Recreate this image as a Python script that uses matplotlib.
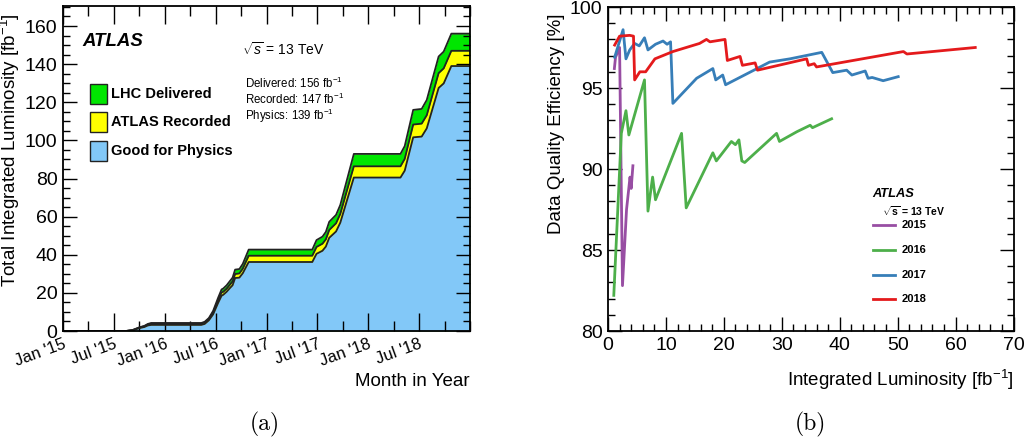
import numpy as np
import matplotlib.pyplot as plt
from matplotlib.lines import Line2D
from matplotlib.patches import Rectangle
from matplotlib.ticker import MultipleLocator

plt.rcParams['font.family'] = ['Liberation Sans', 'DejaVu Sans']
plt.rcParams['mathtext.fontset'] = 'custom'
plt.rcParams['mathtext.rm'] = 'Liberation Sans'
plt.rcParams['mathtext.it'] = 'Liberation Sans:italic'
plt.rcParams['mathtext.bf'] = 'Liberation Sans:bold'

# (a) cumulative luminosity, x = months since Jan 2015
months = [0, 5.0, 7.5, 8.2, 9.0, 9.6, 10.0, 10.4, 16.3, 16.7, 17.2, 17.7, 18.3, 18.7,
          18.9, 19.3, 19.7, 20.0, 20.3, 20.8, 21.2, 21.9, 29.4, 29.9, 30.6, 31.0,
          31.4, 32.2, 32.7, 34.3, 39.8, 40.3, 41.3, 42.3, 42.9, 44.3, 44.9, 45.8, 48.0]
delivered = [0, 0, 0.05, 0.5, 1.9, 2.7, 3.7, 4.2, 4.2, 4.8, 6.8, 10.5, 17.5, 21.8,
             22.3, 24.0, 26.3, 28.0, 32.2, 32.5, 35.2, 42.7, 42.7, 47.7, 49.5, 52.0,
             57.3, 60.9, 66.1, 92.9, 92.9, 97.0, 116.0, 116.5, 121.2, 144.0, 146.6, 156.0, 156.0]
recorded = [0, 0, 0.05, 0.45, 1.8, 2.5, 3.4, 3.9, 3.9, 4.5, 6.3, 9.7, 16.2, 20.2,
            20.6, 22.2, 24.4, 26.0, 29.9, 30.2, 32.7, 39.5, 39.5, 44.1, 45.8, 48.1,
            53.0, 56.5, 61.4, 86.4, 86.4, 90.3, 108.3, 108.8, 113.2, 135.3, 137.8, 147.0, 147.0]
physics = [0, 0, 0.04, 0.4, 1.5, 2.1, 2.9, 3.2, 3.2, 3.7, 5.6, 8.7, 14.8, 18.5,
           19.0, 20.6, 22.6, 24.0, 27.8, 28.0, 30.3, 36.2, 36.2, 40.5, 42.1, 44.3,
           48.9, 52.2, 56.8, 80.5, 80.5, 84.1, 101.6, 102.0, 106.3, 127.5, 129.9, 139.0, 139.0]
month_labels = ["Jan '15", "Jul '15", "Jan '16", "Jul '16", "Jan '17", "Jul '17", "Jan '18", "Jul '18"]

# (b) data quality efficiency vs integrated luminosity
lumi_2015 = [1.1, 1.3, 2.0, 2.5, 3.2, 3.8, 4.0, 4.3]
eff_2015 = [96.2, 96.9, 97.5, 82.8, 87.5, 89.5, 88.8, 90.2]
lumi_2016 = [1.0, 2.3, 3.1, 3.6, 6.3, 6.9, 7.7, 8.2, 12.7, 13.5, 18.1, 18.7, 21.3, 22.0,
             22.6, 23.1, 23.6, 29.1, 29.6, 32.6, 34.9, 35.3, 38.6]
eff_2016 = [82.2, 92.2, 93.6, 92.1, 95.5, 87.4, 89.5, 88.1, 92.2, 87.6, 91.0, 90.5, 91.7, 91.5,
            91.8, 90.5, 90.4, 92.2, 91.7, 92.3, 92.7, 92.55, 93.1]
lumi_2017 = [1.15, 2.6, 3.1, 3.75, 4.6, 5.4, 6.3, 6.9, 8.2, 9.5, 10.2, 10.8, 11.2, 15.3,
             18.1, 18.6, 19.8, 20.3, 27.9, 31.4, 36.9, 38.8, 41.2, 42.1, 44.4, 44.9,
             45.6, 47.5, 50.1]
eff_2017 = [96.9, 98.6, 96.8, 97.35, 97.75, 97.6, 98.1, 97.35, 97.7, 97.9, 97.7, 97.85, 94.05, 95.6,
            96.2, 95.5, 95.8, 95.2, 96.6, 96.8, 97.2, 95.95, 96.1, 95.8, 96.05, 95.6,
            95.65, 95.45, 95.7]
lumi_2018 = [1.15, 2.0, 3.75, 4.4, 4.6, 5.5, 6.5, 8.1, 11.2, 15.8, 17.0, 17.6, 20.2, 20.6,
             22.8, 23.2, 25.4, 25.8, 34.3, 34.6, 35.6, 36.0, 51.0, 51.6, 63.4]
eff_2018 = [97.65, 98.2, 98.25, 98.2, 95.5, 96.0, 96.0, 96.8, 97.25, 97.75, 98.0, 97.85, 98.0, 96.7,
            96.95, 96.4, 96.55, 96.1, 96.8, 96.4, 96.5, 96.3, 97.25, 97.1, 97.5]

years = ['2015', '2016', '2017', '2018']
colors = ['#984ea3', '#4daf4a', '#377eb8', '#e41a1c']

W, H = 1024, 440
fig = plt.figure(figsize=(W / 100, H / 100), dpi=100)


def fx(px):
    return px / W


def fy(py):
    return 1 - py / H


def style_axes(ax):
    for s in ax.spines.values():
        s.set_linewidth(1.3)
    ax.tick_params(which='both', direction='in', top=True, right=True,
                   labelsize=14, width=1.0, pad=4)
    ax.tick_params(which='major', length=10)
    ax.tick_params(which='minor', length=5)


# ---------- (a) ----------
ax1 = fig.add_axes([fx(63), fy(331), fx(470) - fx(63), fy(6) - fy(331)])
green, yellow, blue = '#00e600', '#ffff00', '#82c8f8'
ax1.fill_between(months, 0, delivered, color=green, lw=0)
ax1.fill_between(months, 0, recorded, color=yellow, lw=0)
ax1.fill_between(months, 0, physics, color=blue, lw=0)
for series in (delivered, recorded, physics):
    ax1.plot(months, series, color='#222222', lw=1.3)
ax1.set_xlim(0, 48)
ax1.set_ylim(0, 170.5)
style_axes(ax1)
ax1.xaxis.set_major_locator(MultipleLocator(6))
ax1.xaxis.set_minor_locator(MultipleLocator(3))
ax1.yaxis.set_major_locator(MultipleLocator(20))
ax1.yaxis.set_minor_locator(MultipleLocator(5))
ax1.tick_params(axis='x', which='major', length=13)
ax1.tick_params(axis='x', which='minor', length=7)
ax1.set_xticks(np.arange(0, 48, 6))
ax1.set_xticklabels(month_labels, rotation=20, ha='right', rotation_mode='anchor', fontsize=12)
ax1.set_ylabel('Total Integrated Luminosity [fb$^{-1}$]', fontsize=13.5, labelpad=2)
ax1.yaxis.set_label_coords(-0.1, 0.555)
ax1.set_xlabel('Month in Year', fontsize=13.5)
ax1.xaxis.set_label_coords(1.0, -0.13)
ax1.xaxis.label.set_ha('right')

fig.text(fx(82), fy(41), 'ATLAS', fontsize=13.4, fontweight='bold', fontstyle='italic', va='center')
fig.text(fx(242), fy(50), r'$\sqrt{s}$ = 13 TeV', fontsize=10, va='center')
fig.text(fx(245), fy(83), 'Delivered: 156 fb$^{-1}$', fontsize=8.3, va='center')
fig.text(fx(245), fy(99.5), 'Recorded: 147 fb$^{-1}$', fontsize=8.3, va='center')
fig.text(fx(245), fy(116), 'Physics: 139 fb$^{-1}$', fontsize=8.3, va='center')
for (c, lab, yc) in [(green, 'LHC Delivered', 94), (yellow, 'ATLAS Recorded', 122),
                     (blue, 'Good for Physics', 151)]:
    fig.add_artist(Rectangle((fx(90), fy(yc + 10)), fx(107) - fx(90), fy(yc - 10) - fy(yc + 10),
                             transform=fig.transFigure, facecolor=c, edgecolor='#222222', lw=1.0))
    fig.text(fx(111), fy(yc), lab, fontsize=10.5, fontweight='bold', va='center')

# ---------- (b) ----------
ax2 = fig.add_axes([fx(608), fy(331), fx(1013.5) - fx(608), fy(7) - fy(331)])
lines = []
for lum, eff, c in zip([lumi_2015, lumi_2016, lumi_2017, lumi_2018],
                       [eff_2015, eff_2016, eff_2017, eff_2018], colors):
    ln, = ax2.plot(lum, eff, color=c, lw=2.0)
    lines.append(ln)
ax2.set_xlim(0, 70)
ax2.set_ylim(80, 100)
style_axes(ax2)
ax2.xaxis.set_major_locator(MultipleLocator(10))
ax2.xaxis.set_minor_locator(MultipleLocator(2))
ax2.yaxis.set_major_locator(MultipleLocator(5))
ax2.yaxis.set_minor_locator(MultipleLocator(1))
ax2.set_ylabel('Data Quality Efficiency [%]', fontsize=13.5)
ax2.yaxis.set_label_coords(-0.105, 0.64)
ax2.set_xlabel('Integrated Luminosity [fb$^{-1}$]', fontsize=13.5)
ax2.xaxis.set_label_coords(1.0, -0.115)
ax2.xaxis.label.set_ha('right')

fig.text(fx(872), fy(194), 'ATLAS', fontsize=9.3, fontweight='bold', fontstyle='italic', va='center')
fig.text(fx(882), fy(211), r'$\mathbf{\sqrt{s}}$ = 13 TeV', fontsize=7.5, fontweight='bold', va='center')
for ln, lab, yc in zip(lines, years, [225, 250, 274.5, 298.5]):
    fig.add_artist(Line2D([fx(873), fx(895)], [fy(yc), fy(yc)], transform=fig.transFigure,
                          color=ln.get_color(), lw=2.0))
    fig.text(fx(902), fy(yc), lab, fontsize=8, fontweight='bold', va='center')

fig.text(fx(265), fy(424), '(a)', fontsize=17, family='cmr10', ha='center', va='center')
fig.text(fx(810), fy(424), '(b)', fontsize=17, family='cmr10', ha='center', va='center')

fig.savefig('out.png', dpi=100)
